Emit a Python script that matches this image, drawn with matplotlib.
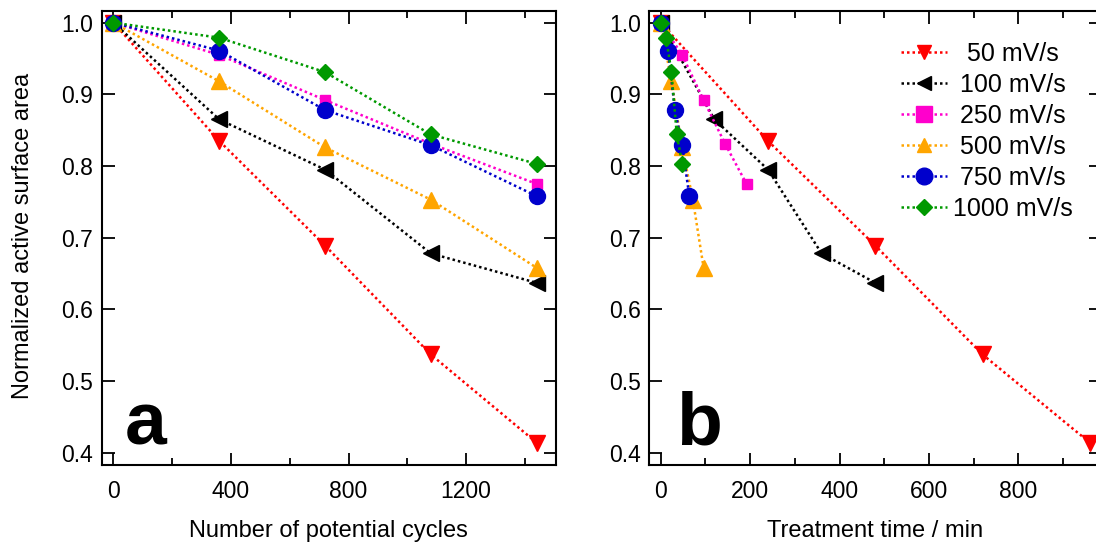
import matplotlib
matplotlib.use('Agg')
import matplotlib.pyplot as plt
from matplotlib.ticker import MultipleLocator

plt.rcParams['font.family'] = ['Liberation Sans', 'DejaVu Sans']

# potential cycles (panel a)
cycles = [0, 360, 720, 1080, 1440]

# treatment time in minutes (panel b)
t50 = [0, 240, 480, 720, 960]
t100 = [0, 120, 240, 360, 480]
t250 = [0, 48, 96, 144, 192]
t500 = [0, 24, 48, 72, 96]
t750 = [0, 16, 32, 48, 64]
t1000 = [0, 12, 24, 36, 48]

# normalized active surface area
y50 = [1.0, 0.835, 0.689, 0.537, 0.414]
y100 = [1.0, 0.865, 0.795, 0.678, 0.637]
y250 = [1.0, 0.955, 0.892, 0.831, 0.775]
y500 = [1.0, 0.918, 0.826, 0.753, 0.658]
y750 = [1.0, 0.961, 0.878, 0.829, 0.758]
y1000 = [1.0, 0.979, 0.931, 0.844, 0.803]

labels = ['  50 mV/s', ' 100 mV/s', ' 250 mV/s', ' 500 mV/s', ' 750 mV/s', '1000 mV/s']

# (time, values, colour, marker, size in plot, size in legend)
series = [
    (t50, y50, '#FF0000', 'v', 11.5, 10.5),
    (t100, y100, '#000000', '<', 11.5, 10.5),
    (t250, y250, '#FF00CC', 's', 7.5, 11),
    (t500, y500, '#FFA500', '^', 11.5, 10.5),
    (t750, y750, '#0000CC', 'o', 11.5, 12),
    (t1000, y1000, '#009900', 'D', 7.8, 8),
]

W, H = 1096, 544
fig = plt.figure(figsize=(W / 100, H / 100), dpi=100)
ax_a = fig.add_axes([101.7 / W, 79 / H, 454.3 / W, 454.3 / H])
ax_b = fig.add_axes([649.3 / W, 79 / H, 451.7 / W, 454.3 / H])

dots = (0, (1, 1.2))
for (t, y, c, m, ms, _), lab in zip(series, labels):
    ax_a.plot(cycles, y, linestyle=dots, lw=1.8, color=c, marker=m, ms=ms,
              mec=c, mfc=c)
    ax_b.plot(t, y, linestyle=dots, lw=1.8, color=c, marker=m, ms=ms,
              mec=c, mfc=c, label=lab)

ax_a.set_xlim(-40, 1506)
ax_b.set_xlim(-25.5, 985)
for ax in (ax_a, ax_b):
    ax.set_ylim(0.3828, 1.0167)
    ax.yaxis.set_major_locator(MultipleLocator(0.1))
    ax.tick_params(which='both', direction='in', top=True, right=True,
                   labelsize=16.5, width=1.3)
    ax.tick_params(which='major', length=9)
    ax.tick_params(which='minor', length=5)
    ax.tick_params(axis='x', pad=11)
    ax.tick_params(axis='y', pad=6)
    for s in ax.spines.values():
        s.set_linewidth(1.5)

ax_a.xaxis.set_major_locator(MultipleLocator(400))
ax_a.xaxis.set_minor_locator(MultipleLocator(200))
ax_b.xaxis.set_major_locator(MultipleLocator(200))
ax_b.xaxis.set_minor_locator(MultipleLocator(100))

ax_a.set_xlabel('Number of potential cycles', fontsize=17, labelpad=12)
ax_b.set_xlabel('Treatment time / min', fontsize=17, labelpad=12)
ax_a.set_ylabel('Normalized active surface area', fontsize=17)
ax_a.yaxis.set_label_coords(-0.148, 0.504)

ax_a.text(0.051, 0.046, 'a', transform=ax_a.transAxes, fontsize=54,
          fontweight='bold', ha='left', va='baseline')
ax_b.text(0.059, 0.046, 'b', transform=ax_b.transAxes, fontsize=54,
          fontweight='bold', ha='left', va='baseline')

leg = ax_b.legend(loc='upper left', bbox_to_anchor=(0.557, 0.931), frameon=False,
                  fontsize=18, handlelength=1.84, handletextpad=0.24,
                  labelspacing=0.28, borderpad=0, borderaxespad=0)
for h, s in zip(leg.legend_handles, series):
    h.set_markersize(s[5])

fig.savefig('out.png', dpi=100)
